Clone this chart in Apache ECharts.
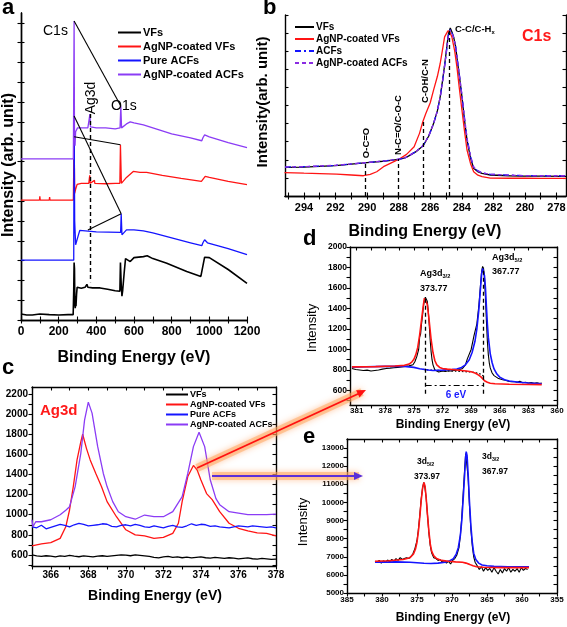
<!DOCTYPE html>
<html><head><meta charset="utf-8">
<script src="https://cdn.jsdelivr.net/npm/echarts@6/dist/echarts.min.js"></script>
<style>html,body{margin:0;padding:0;background:#fff}#m{width:567px;height:627px}</style>
</head><body><div id="m"></div><script>
// ---------------- DATA ----------------
// Panel a: survey spectra (x = binding energy eV, y = arbitrary offset units)
const aVFs = [[0,0.3],[10,0.22],[30,0.25],[60,0.25],[100,0.3],[103,0.25],[150,0.27],[200,0.25],[250,0.27],[277,0.27],[280,1.5],[282,2.9],[284,2.6],[286,0.8],[288,0.6],[290,1.2],[292,0.7],[295,1.3],[298,1.65],[305,1.75],[320,1.6],[340,1.65],[350,1.8],[355,1.65],[380,1.62],[420,1.62],[460,1.55],[500,1.48],[525,1.45],[528,2.9],[532,1.8],[536,1.2],[540,1.5],[548,2.4],[555,3.1],[565,3.0],[580,2.95],[600,3.15],[650,3.2],[670,3.24],[700,3.1],[774,2.87],[880,2.45],[955,2.2],[962,2.25],[975,3.17],[1000,3.15],[1100,2.55],[1200,1.85]];
const aAgVFs = [[0,6.05],[98,6.05],[100,6.25],[102,6.05],[150,6.05],[152,6.2],[154,6.05],[278,6.05],[282,9.25],[285,6.4],[290,6.6],[298,6.85],[320,6.9],[360,6.9],[365,7.3],[368,6.9],[390,7.05],[392,6.9],[450,6.88],[500,6.9],[525,6.9],[528,8.85],[533,6.9],[540,6.95],[560,7.2],[596,7.5],[632,7.45],[667,7.45],[750,7.3],[850,7.15],[958,7.0],[965,7.05],[978,7.25],[1000,7.2],[1100,7.0],[1200,6.83]];
const aACFs = [[0,3.02],[280,3.02],[282,10.3],[285,5.0],[290,3.8],[298,3.8],[305,4.3],[312,4.52],[400,4.45],[529,4.42],[532,5.36],[536,4.3],[540,4.4],[560,4.55],[600,4.55],[650,4.5],[700,4.4],[800,4.15],[900,3.9],[960,3.75],[966,3.9],[975,4.05],[990,3.9],[1100,3.6],[1200,3.3]];
const aAgACFs = [[0,8.13],[278,8.13],[282,15.1],[284,9.3],[287,8.8],[290,9.5],[296,9.55],[300,9.7],[355,9.7],[363,9.8],[366,10.4],[369,9.75],[400,9.7],[450,9.7],[500,9.65],[526,9.7],[530,10.8],[534,9.7],[540,9.8],[560,9.9],[580,10.0],[600,9.95],[650,9.85],[700,9.7],[800,9.4],[900,9.2],[960,9.05],[966,9.2],[975,9.35],[1000,9.25],[1100,8.95],[1200,8.7]];
const aNames = ['VFs','AgNP-coated VFs','Pure ACFs','AgNP-coated ACFs'];

// Panel b: C1s high resolution
const bVFs = [[295.2,1.58],[294,1.6],[293,1.64],[292,1.68],[291,1.76],[290,1.84],[289,1.92],[288.5,1.97],[288,2.02],[287.6,2.1],[287.27,2.26],[286.9,2.45],[286.47,2.76],[286.1,3.3],[285.79,4.0],[285.55,4.7],[285.37,5.48],[285.2,6.5],[285.05,7.5],[284.9,8.6],[284.84,9.0],[284.73,9.28],[284.6,9.0],[284.52,8.79],[284.4,8.3],[284.31,7.68],[284.15,6.6],[283.99,5.48],[283.83,4.2],[283.67,3.09],[283.45,2.1],[283.25,1.53],[283.0,1.35],[282.72,1.25],[282.19,1.16],[281,1.12],[280.14,1.1],[279,1.1],[277.4,1.08]];
const bAgVFs = [[295.23,1.29],[294,1.26],[293,1.24],[291.93,1.21],[291,1.16],[290.23,1.12],[289.8,1.2],[289.39,1.34],[288.96,1.62],[288.5,1.82],[288.01,2.02],[287.5,2.3],[287.02,2.72],[286.68,3.46],[286.47,4.1],[286.28,4.56],[286.0,5.15],[285.79,5.85],[285.55,6.6],[285.37,7.32],[285.2,8.2],[285.09,8.79],[284.88,9.12],[284.75,9.05],[284.63,8.79],[284.45,8.0],[284.31,7.13],[284.15,5.9],[283.99,4.74],[283.83,3.6],[283.67,2.54],[283.45,1.8],[283.25,1.34],[282.98,1.15],[282.72,1.07],[282.19,0.99],[281,0.98],[280,0.98],[279,0.97],[277.4,0.97]];
const bACFs = [[295.2,1.6],[294,1.62],[293,1.65],[292,1.69],[291,1.77],[290,1.85],[289,1.93],[288.5,1.98],[288,2.03],[287.6,2.11],[287.27,2.27],[286.9,2.46],[286.47,2.77],[286.1,3.3],[285.79,4.0],[285.55,4.7],[285.37,5.45],[285.2,6.45],[285.05,7.45],[284.9,8.5],[284.84,8.9],[284.73,9.2],[284.6,8.95],[284.52,8.75],[284.4,8.3],[284.31,7.7],[284.15,6.65],[283.99,5.55],[283.83,4.3],[283.67,3.2],[283.45,2.2],[283.25,1.6],[283.0,1.4],[282.72,1.28],[282.19,1.2],[281,1.15],[280.14,1.13],[279,1.12],[277.4,1.12]];
const bAgACFs = [[295.2,1.6],[294,1.62],[293,1.66],[292,1.7],[291,1.77],[290,1.85],[289,1.93],[288.5,1.98],[288,2.03],[287.6,2.11],[287.27,2.27],[286.9,2.46],[286.47,2.77],[286.1,3.3],[285.79,4.0],[285.55,4.7],[285.37,5.45],[285.2,6.45],[285.05,7.45],[284.9,8.5],[284.84,8.9],[284.73,9.15],[284.6,8.95],[284.52,8.75],[284.4,8.3],[284.31,7.7],[284.15,6.65],[283.99,5.55],[283.83,4.3],[283.67,3.2],[283.45,2.2],[283.25,1.6],[283.0,1.4],[282.72,1.28],[282.19,1.2],[281,1.15],[280.14,1.13],[279,1.12],[277.4,1.12]];
const bNames = ['VFs','AgNP-coated VFs','ACFs','AgNP-coated ACFs'];

// Panel c: Ag3d region (black/blue sampled every 0.25 eV from 365)
const cStart = 365, cStep = 0.25;
const cVFs = [600,590,585,592,588,580,590,585,595,588,582,590,585,580,588,592,585,590,595,600,598,592,600,595,590,585,575,570,580,585,575,580,572,578,570,575,580,572,568,575,570,565,572,568,560,565,570,562,558,565,560,555,558];
const cACFs = [880,870,895,860,875,890,905,895,880,900,915,905,890,895,900,910,905,885,880,895,900,890,905,895,880,875,890,880,870,885,895,880,875,890,910,895,905,900,885,890,880,875,870,880,890,885,880,890,885,880,875,880,870];
const cAgVFs = [[365,690],[365.5,710],[366,722],[366.5,765],[366.8,880],[367,1047],[367.2,1280],[367.4,1545],[367.6,1725],[367.7,1800],[367.9,1660],[368.1,1545],[368.4,1410],[368.7,1280],[369,1130],[369.5,980],[370,850],[370.5,800],[371,790],[371.5,765],[372,775],[372.5,815],[372.8,915],[373,1130],[373.3,1380],[373.6,1490],[373.7,1500],[373.8,1445],[374,1345],[374.3,1210],[374.6,1150],[375,1030],[375.5,915],[376,865],[376.5,840],[377,820],[377.5,815],[378,790]];
const cAgACFs = [[365,950],[365.05,880],[365.2,930],[365.5,930],[366,950],[366.5,1000],[366.8,1045],[367,1080],[367.3,1280],[367.6,1610],[367.8,1940],[368,2120],[368.2,2010],[368.5,1677],[368.8,1410],[369,1280],[369.3,1130],[369.6,1030],[370,980],[370.5,955],[371,997],[371.5,980],[372,980],[372.5,1030],[373,1180],[373.3,1410],[373.6,1677],[373.9,1820],[374.2,1677],[374.5,1345],[374.8,1160],[375,1100],[375.5,1030],[376,1015],[376.5,1000],[377,1000],[377.5,1000],[378,1005]];
const cNames = ['VFs','AgNP-coated VFs','Pure ACFs','AgNP-coated ACFs'];

// Panel d: AgNP-coated VFs Ag3d fit
const dRaw = [[381.5,815],[381.3,822],[381.1,805],[380.9,818],[380.7,800],[380.5,812],[380.3,795],[380.1,810],[379.9,798],[379.7,815],[379.5,790],[379.3,805],[379.1,795],[378.9,812],[378.7,800],[378.5,792],[378.3,808],[378.1,798],[377.9,815],[377.7,805],[377.5,818],[377.3,810],[377.1,822],[376.9,815],[376.7,825],[376.5,820],[376.3,830],[376.1,828],[375.9,835],[375.7,832],[375.5,840],[375.3,845],[375.1,850],[374.9,880],[374.7,930],[374.5,1000],[374.4,1120],[374.3,1150],[374.2,1250],[374.1,1330],[374,1420],[373.9,1480],[373.8,1510],[373.7,1505],[373.6,1470],[373.5,1380],[373.4,1250],[373.3,1100],[373.2,980],[373.1,900],[373,850],[372.8,800],[372.6,790],[372.4,780],[372.2,785],[372,790],[371.7,785],[371.4,792],[371.1,790],[370.8,795],[370.5,800],[370.2,805],[369.9,815],[369.6,850],[369.4,908],[369,1000],[368.7,1135],[368.4,1250],[368.2,1420],[368,1650],[367.9,1760],[367.8,1810],[367.7,1790],[367.6,1700],[367.5,1500],[367.4,1280],[367.3,1080],[367.2,950],[367.1,870],[367,820],[366.8,770],[366.6,745],[366.4,735],[366.2,720],[366,710],[365.7,705],[365.4,700],[365.1,690],[364.8,685],[364.5,688],[364.2,680],[363.9,690],[363.6,675],[363.3,680],[363,672],[362.7,678],[362.4,670],[362.1,675],[361.8,668],[361.6,672]];
const dFit52 = [[381.5,828],[380,832],[378,835],[376,835],[375,825],[374.4,811],[373.5,800],[373,795],[372,798],[371,804],[370.5,810],[370,825],[369.6,850],[369.2,900],[368.9,970],[368.6,1080],[368.4,1200],[368.2,1380],[368,1620],[367.9,1740],[367.8,1790],[367.7,1780],[367.6,1720],[367.5,1600],[367.4,1420],[367.3,1250],[367.2,1120],[367,960],[366.8,870],[366.6,810],[366.3,760],[366,730],[365.5,705],[365,692],[364,680],[363,672],[362,668],[361.6,665]];
const dFit32 = [[381.5,830],[379,833],[377,838],[376,845],[375.5,858],[375.2,880],[375,905],[374.8,950],[374.6,1020],[374.4,1140],[374.2,1290],[374,1440],[373.9,1500],[373.8,1515],[373.7,1500],[373.6,1440],[373.4,1280],[373.2,1100],[373,970],[372.8,890],[372.6,850],[372.3,825],[372,815],[371.5,808],[371,805],[370.5,800],[370,795],[369.5,790],[369,782],[368.6,770],[368.3,755],[368,735],[367.8,715],[367.6,695],[367.3,680],[367,670],[366.5,665],[365,660],[363,658],[361.6,657]];
const dBg = [[374,805],[373,797],[372,793],[371,790],[370,786],[369,780],[368.5,772],[368,760],[367.7,740]];

// Panel e: AgNP-coated ACFs Ag3d fit
const eRaw = [[381,6750],[380.7,6700],[380.4,6800],[380.1,6650],[379.8,6780],[379.5,6700],[379.2,6820],[378.9,6720],[378.6,6850],[378.3,6750],[378,6900],[377.7,6800],[377.4,6950],[377.1,6850],[376.8,6900],[376.5,6950],[376.2,6900],[375.9,7000],[375.6,7150],[375.3,7450],[375,7900],[374.8,8500],[374.6,9300],[374.4,10200],[374.2,10800],[374.05,11100],[373.9,10900],[373.7,10300],[373.5,9300],[373.3,8300],[373.1,7600],[372.9,7200],[372.6,6950],[372.3,6900],[372,6800],[371.7,6850],[371.4,6700],[371.1,6800],[370.8,6650],[370.5,6750],[370.2,6600],[369.9,6800],[369.6,6900],[369.3,7100],[369,7500],[368.8,8200],[368.6,9200],[368.4,10500],[368.2,11800],[368.05,12700],[367.9,12600],[367.7,11400],[367.5,9800],[367.3,8500],[367.1,7600],[366.9,7000],[366.7,6700],[366.4,6500],[366.1,6300],[365.8,6450],[365.5,6200],[365.2,6400],[364.9,6250],[364.6,6350],[364.3,6150],[364,6400],[363.7,6200],[363.4,6050],[363.1,6300],[362.8,6100],[362.5,6350],[362.2,6200],[361.9,6400],[361.6,6150],[361.3,6300],[361,6200],[360.7,6350],[360.4,6150],[360.1,6400],[359.8,6250],[359.5,6350],[359.2,6300]];
const eFit32 = [[381,6750],[379,6780],[377,6850],[376,6950],[375.5,7150],[375.2,7450],[375,7800],[374.8,8400],[374.6,9200],[374.4,10100],[374.2,10800],[374,11100],[373.85,10900],[373.7,10300],[373.5,9300],[373.3,8400],[373.1,7700],[372.9,7300],[372.6,7050],[372.2,6900],[371.5,6800],[370.5,6750],[369.5,6720],[368.5,6700],[368,6650],[367.5,6580],[367,6500],[366.5,6450],[365.5,6420],[363,6400],[359,6400]];
const eFit52 = [[381,6700],[378,6720],[376,6700],[375,6670],[374,6640],[373,6630],[372,6650],[371,6700],[370.3,6780],[369.8,6900],[369.4,7150],[369.1,7500],[368.8,8200],[368.6,9000],[368.4,10200],[368.2,11500],[368.05,12500],[367.97,12800],[367.85,12600],[367.7,11600],[367.5,10000],[367.3,8700],[367.1,7800],[366.9,7200],[366.6,6850],[366.2,6650],[365.7,6550],[365,6500],[364,6470],[362,6450],[359,6450]];

// Tick labels
const aXLabels = [0,200,400,600,800,1000,1200];
const bXLabels = [294,292,290,288,286,284,282,280,278];
const cXLabels = [366,368,370,372,374,376,378];
const cYLabels = [600,800,1000,1200,1400,1600,1800,2000,2200];
const dXLabels = [381,378,375,372,369,366,363,360];
const dYLabels = [600,800,1000,1200,1400,1600,1800,2000];
const eXLabels = [385,380,375,370,365,360,355];
const eYLabels = [5000,6000,7000,8000,9000,10000,11000,12000,13000];

// Peak / component positions
const bComp = [[290.09,1.86],[288.01,2.05],[286.47,4.1],[284.8,9.28]];
const dPeaks = [[373.77,1510],[367.77,1800]];

// ---------------- HELPERS ----------------
function seq(a,b,s){const r=[];for(let v=a;v<=b+1e-9;v+=s)r.push(+v.toFixed(3));return r;}
const F = '"Liberation Sans", Arial, sans-serif';
const BLK='#000', RED='#ff1414', BLU='#1414ff', PUR='#8b3cf5';
const grids=[], xAxes=[], yAxes=[];
const fmt = v => String(v);
function panel(g, x, y){
  const gi = grids.length;
  grids.push(Object.assign({containLabel:false, outerBoundsMode:'none'}, g));
  const line = {show:true, lineStyle:{color:'#000', width:1.4}};
  xAxes.push({gridIndex:gi, type:'value', position:'bottom', min:x.min, max:x.max, inverse:!!x.inv,
    axisLine:line, splitLine:{show:false},
    axisTick:{inside:x.inside, length:x.tl||3.5, customValues:x.ticks, lineStyle:{width:1.1}},
    axisLabel:{customValues:x.labels, formatter:fmt, margin:x.margin, fontSize:x.fs, fontWeight:'bold', fontFamily:F, color:'#000', showMinLabel:true, showMaxLabel:true, hideOverlap:false}});
  xAxes.push({gridIndex:gi, type:'value', position:'top', min:x.min, max:x.max, inverse:!!x.inv,
    axisLine:line, splitLine:{show:false},
    axisTick:{inside:true, length:x.tl||3.5, customValues:x.ticks, lineStyle:{width:1.1}}, axisLabel:{show:false}});
  yAxes.push({gridIndex:gi, type:'value', position:'left', min:y.min, max:y.max,
    axisLine:line, splitLine:{show:false},
    axisTick:{inside:y.inside, length:y.tl||3.5, customValues:y.ticks, lineStyle:{width:1.1}},
    axisLabel:y.labels?{customValues:y.labels, formatter:fmt, margin:y.margin, fontSize:y.fs, fontWeight:'bold', fontFamily:F, color:'#000', showMinLabel:true, showMaxLabel:true, hideOverlap:false}:{show:false}});
  yAxes.push({gridIndex:gi, type:'value', position:'right', min:y.min, max:y.max,
    axisLine:line, splitLine:{show:false},
    axisTick:{inside:true, length:y.tl||3.5, customValues:y.ticks, lineStyle:{width:1.1}}, axisLabel:{show:false}});
  return gi;
}
function ser(gi, name, data, color, type, extra){
  return Object.assign({type:'line', name, xAxisIndex:gi*2, yAxisIndex:gi*2, data, symbol:'none',
    showSymbol:false, animation:false, lineStyle:{color, width:1.3, type:type||'solid'}, itemStyle:{color}}, extra||{});
}
function vline(x,y1,y2,style){return [{coord:[x,y1], lineStyle:style},{coord:[x,y2]}];}

// ---------------- PANELS ----------------
const ga = panel({left:21, top:13, width:226, height:307},
  {min:0, max:1200, ticks:seq(0,1200,100), labels:aXLabels, inside:true, margin:6, fs:12},
  {min:0, max:15.5, ticks:seq(0,15,1), inside:true});
const gb = panel({left:285, top:15, width:281, height:181},
  {min:277.4, max:295.2, inv:true, ticks:seq(278,295,1), labels:bXLabels, inside:true, margin:6, fs:11},
  {min:0, max:10, ticks:seq(0,10,1), inside:true});
const gc = panel({left:32, top:387, width:244, height:179},
  {min:365, max:378, ticks:seq(365,378,1), labels:cXLabels, inside:false, margin:4, fs:10},
  {min:490, max:2270, ticks:seq(500,2200,100), labels:cYLabels, inside:false, margin:4, fs:10});
const gd = panel({left:350, top:247, width:207, height:158},
  {min:360, max:381.7, inv:true, ticks:seq(360,381,1.5), labels:dXLabels, inside:false, margin:2, fs:8},
  {min:458, max:2000, ticks:seq(500,2000,100), labels:dYLabels, inside:false, margin:3, fs:8.5});
const ge = panel({left:347, top:439, width:210, height:154},
  {min:355, max:385, inv:true, ticks:seq(355,385,2.5), labels:eXLabels, inside:false, margin:3, fs:8},
  {min:5000, max:13500, ticks:seq(5000,13000,500), labels:eYLabels, inside:false, margin:3, fs:8});

const cPairs = arr => arr.map((v,i)=>[+(cStart+i*cStep).toFixed(2), v]);
const solidBlk = {color:'#000', width:1.1, type:'solid'};
const dashBlk = {color:'#000', width:1.3, type:[4,3]};

const series = [
  // a
  ser(ga,'a|'+aNames[0],aVFs,BLK,'solid',{lineStyle:{color:BLK,width:1.6},
    markLine:{silent:true, symbol:'none', animation:false, label:{show:false},
      data:[ [{coord:[282,15.1],lineStyle:solidBlk},{coord:[530,10.8]}],
             [{coord:[282,9.25],lineStyle:solidBlk},{coord:[528,8.85]}],
             [{coord:[282,10.3],lineStyle:solidBlk},{coord:[532,5.36]}],
             [{coord:[355,4.55],lineStyle:solidBlk},{coord:[532,5.36]}],
             vline(366,10.4,1.9,{color:'#000',width:1.4,type:[4,3]}) ]}}),
  ser(ga,'a|'+aNames[1],aAgVFs,RED),
  ser(ga,'a|'+aNames[2],aACFs,BLU),
  ser(ga,'a|'+aNames[3],aAgACFs,PUR),
  // b
  ser(gb,'b|'+bNames[0],bVFs,BLK,'solid',{markLine:{silent:true, symbol:'none', animation:false, label:{show:false},
      data: bComp.map(p=>vline(p[0],0,p[1],dashBlk))}}),
  ser(gb,'b|'+bNames[1],bAgVFs,RED),
  ser(gb,'b|'+bNames[2],bACFs,BLU,[6,3,2,3]),
  ser(gb,'b|'+bNames[3],bAgACFs,'#8a2be2',[4,3]),
  // c
  ser(gc,'c|'+cNames[0],cPairs(cVFs),BLK),
  ser(gc,'c|'+cNames[1],cAgVFs,RED),
  ser(gc,'c|'+cNames[2],cPairs(cACFs),BLU),
  ser(gc,'c|'+cNames[3],cAgACFs,PUR),
  // d
  ser(gd,'d raw',dRaw,BLK,'solid',{lineStyle:{color:BLK,width:1.1},
    markLine:{silent:true, symbol:'none', animation:false, label:{show:false},
      data:[vline(dPeaks[0][0],568,dPeaks[0][1],dashBlk), vline(dPeaks[1][0],568,dPeaks[1][1],dashBlk),
        [{coord:[dPeaks[0][0],650],lineStyle:{color:'#000',width:1.1,type:[6,3,2,3]}},{coord:[dPeaks[1][0],650]}] ]}}),
  ser(gd,'d bg',dBg,BLK,[1.5,2]),
  ser(gd,'d fit52',dFit52,BLU,'solid',{lineStyle:{color:BLU,width:1.6}}),
  ser(gd,'d fit32',dFit32,RED,'solid',{lineStyle:{color:RED,width:1.6}}),
  // e
  ser(ge,'e raw',eRaw,BLK,'solid',{lineStyle:{color:BLK,width:1.1}}),
  ser(ge,'e fit52',eFit52,BLU,'solid',{lineStyle:{color:BLU,width:1.6}}),
  ser(ge,'e fit32',eFit32,RED,'solid',{lineStyle:{color:RED,width:1.6}}),
];

function legend(prefix, names, left, top, fs, iw, gap){
  return {show:true, orient:'vertical', left, top, padding:0, itemGap:gap, itemWidth:iw, itemHeight:8,
    data:names.map(n=>prefix+n), selectedMode:false, itemStyle:{opacity:0},
    formatter:n=>n.split('|')[1], textStyle:{fontSize:fs, fontWeight:'bold', fontFamily:F, color:'#000', padding:[0,0,0,-3]}};
}

// ---------------- TEXT / ANNOTATIONS ----------------
function T(x,y,text,size,opt){
  opt=opt||{};
  return {type:'text', x, y, rotation:opt.rot||0, z:100,
    style:{text, font:(opt.w||'bold')+' '+size+'px '+F, fill:opt.c||'#000',
      textAlign:opt.a||'left', textVerticalAlign:opt.v||'top'}};
}
function sub(x,y,main,s,size){
  return {type:'text', x, y, z:100, style:{text:'{m|'+main+'}{s|'+s+'}',
    rich:{m:{font:'bold '+size+'px '+F, fill:'#000'}, s:{font:'bold '+(size*0.62).toFixed(1)+'px '+F, fill:'#000', padding:[5,0,0,0]}}}};
}
const R90 = Math.PI/2;
const graphic = [
  // panel letters
  T(2,-3,'a',22), T(263,-3,'b',22), T(2,357,'c',22), T(303,228,'d',22), T(303,426,'e',22),
  // a
  T(43,24,'C1s',14,{w:'normal'}), T(91,98,'Ag3d',14,{w:'normal',rot:R90,a:'center',v:'middle'}),
  T(111,99,'O1s',14,{w:'normal'}),
  T(9,165,'Intensity (arb. unit)',16,{rot:R90,a:'center',v:'middle'}),
  T(134,358,'Binding Energy (eV)',16,{a:'center',v:'middle'}),
  // b
  T(366,143,'O-C=O',9.5,{rot:R90,a:'center',v:'middle'}),
  T(398,125,'N-C=O/C-O-C',9.5,{rot:R90,a:'center',v:'middle'}),
  T(425,81,'C-OH/C-N',9.5,{rot:R90,a:'center',v:'middle'}),
  sub(455,24,'C-C/C-H','x',9.5),
  T(522,29,'C1s',16,{c:'#ff1a1a'}),
  T(263,102,'Intensity(arb. unit)',15,{rot:R90,a:'center',v:'middle'}),
  T(425,232,'Binding Energy (eV)',16,{a:'center',v:'middle'}),
  // c
  T(40,403,'Ag3d',15,{c:'#ff1a1a'}),
  T(155,596,'Binding Energy (eV)',14,{a:'center',v:'middle'}),
  // d
  sub(420,268,'Ag3d','3/2',9), T(420,284,'373.77',9),
  sub(492,252,'Ag3d','5/2',9), T(492,267,'367.77',9),
  T(456,395,'6 eV',10,{c:'#1a1aff',a:'center',v:'middle'}),
  T(312,328,'Intensity',13,{w:'normal',rot:R90,a:'center',v:'middle'}),
  T(453,425,'Binding Energy (eV)',12,{a:'center',v:'middle'}),
  // e
  sub(417,457,'3d','5/2',8.5), T(414,472,'373.97',8.5),
  sub(482,452,'3d','3/2',8.5), T(482,467,'367.97',8.5),
  T(303,522,'Intensity',13,{w:'normal',rot:R90,a:'center',v:'middle'}),
  T(453,618,'Binding Energy (eV)',12,{a:'center',v:'middle'}),
  // arrows (glow + line + head)
  {type:'line', z:90, shape:{x1:197,y1:468,x2:362,y2:392}, style:{stroke:'rgba(255,170,100,0.55)', lineWidth:8, shadowBlur:6, shadowColor:'rgba(255,140,60,0.8)'}},
  {type:'line', z:90, shape:{x1:212,y1:476,x2:359,y2:476}, style:{stroke:'rgba(255,170,100,0.55)', lineWidth:8, shadowBlur:6, shadowColor:'rgba(255,140,60,0.8)'}},
  {type:'line', z:95, shape:{x1:197,y1:468,x2:360,y2:393}, style:{stroke:'#ff1010', lineWidth:1.8}},
  {type:'polygon', z:95, shape:{points:[[366,390],[359.5,397.4],[356.1,390.2]]}, style:{fill:'#ff1010'}},
  {type:'line', z:95, shape:{x1:212,y1:476,x2:356,y2:476}, style:{stroke:'#5a2fd8', lineWidth:1.8}},
  {type:'polygon', z:95, shape:{points:[[363,476],[354,472],[354,480]]}, style:{fill:'#5a2fd8'}},
];

const chart = echarts.init(document.getElementById('m'), null, {renderer:'canvas'});
chart.setOption({
  animation:false,
  backgroundColor:'#fff',
  grid:grids, xAxis:xAxes, yAxis:yAxes, series,
  legend:[ legend('a|',aNames,117,27,11,23,3), legend('b|',bNames,294,22,10,19,2), legend('c|',cNames,165,390,9,22,1) ],
  graphic
});
</script></body></html>
